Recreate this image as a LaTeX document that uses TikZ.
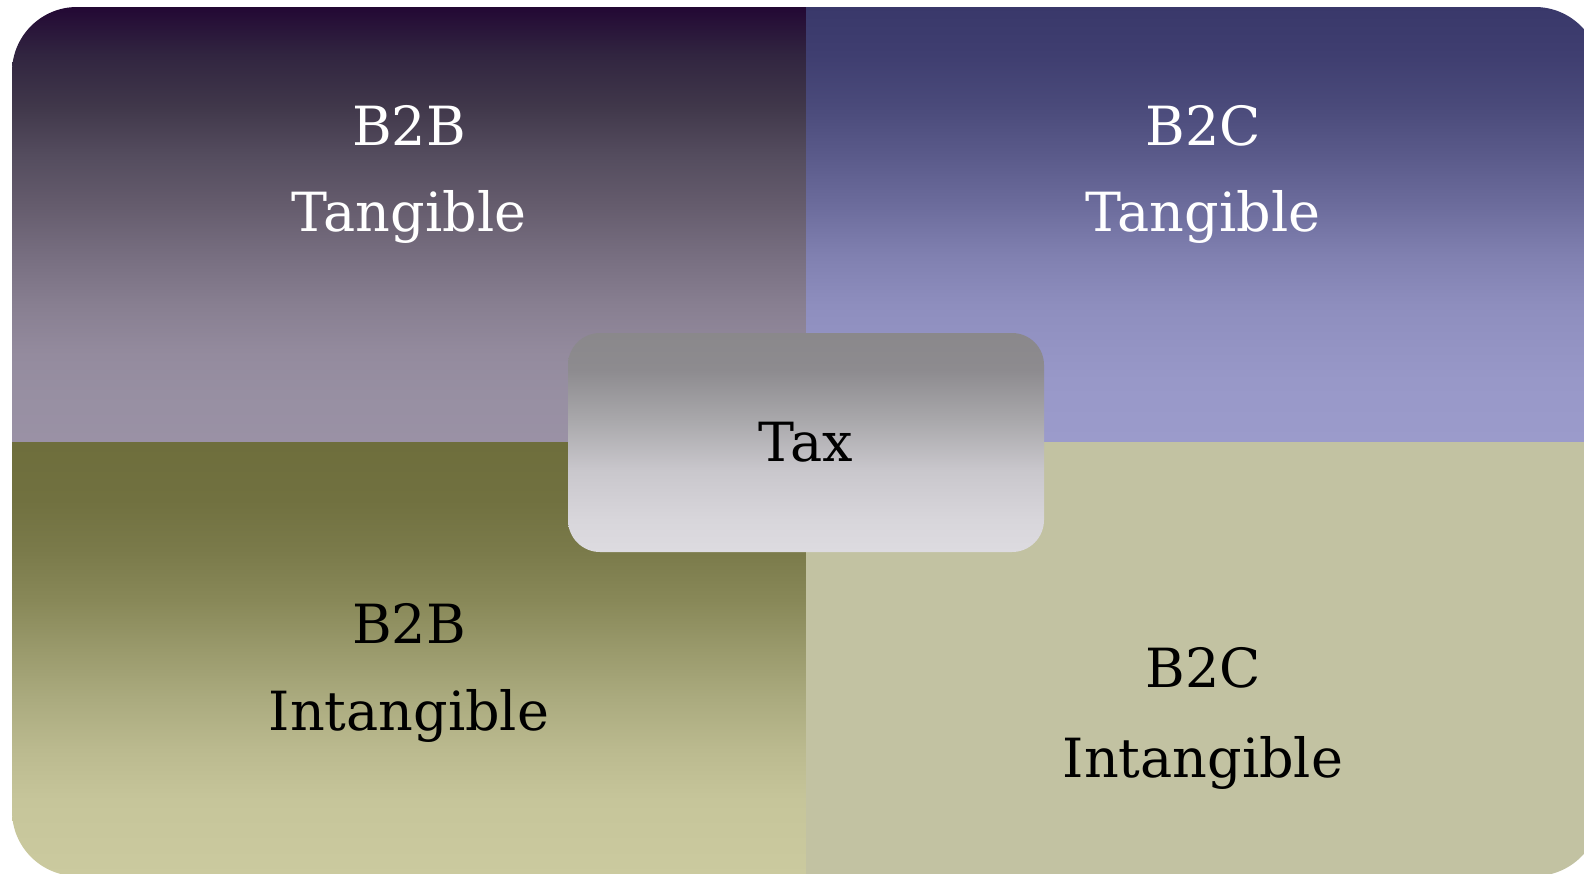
\documentclass[tikz,border=0pt]{standalone}
\usepackage{fontspec}
\setmainfont{DejaVu Serif}
\usetikzlibrary{shadings}
\definecolor{tlA}{HTML}{9A91A5}\definecolor{tlB}{HTML}{9890A3}\definecolor{tlC}{HTML}{948B9E}
\definecolor{tlD}{HTML}{887F91}\definecolor{tlE}{HTML}{776E80}\definecolor{tlF}{HTML}{655C6D}
\definecolor{tlG}{HTML}{544C5E}\definecolor{tlH}{HTML}{40374A}\definecolor{tlI}{HTML}{312540}
\definecolor{tlJ}{HTML}{230834}
\definecolor{trA}{HTML}{9B9BCB}\definecolor{trB}{HTML}{9898C8}\definecolor{trC}{HTML}{8E8EBE}
\definecolor{trD}{HTML}{8080B0}\definecolor{trE}{HTML}{6C6C9C}\definecolor{trF}{HTML}{5A5A8A}
\definecolor{trG}{HTML}{4A4A7A}\definecolor{trH}{HTML}{3F3E70}\definecolor{trI}{HTML}{39386A}
\definecolor{blA}{HTML}{CBCA9F}\definecolor{blB}{HTML}{C6C59A}\definecolor{blC}{HTML}{BBBA8F}
\definecolor{blD}{HTML}{ABAB7F}\definecolor{blE}{HTML}{9A9A6C}\definecolor{blF}{HTML}{888858}
\definecolor{blG}{HTML}{7A7A4A}\definecolor{blH}{HTML}{717140}\definecolor{blI}{HTML}{6E6E3C}
\definecolor{brfill}{HTML}{C2C2A2}
\definecolor{txA}{HTML}{DDDBE0}\definecolor{txB}{HTML}{D8D6DB}\definecolor{txC}{HTML}{C9C7CC}
\definecolor{txD}{HTML}{A9A8AB}\definecolor{txE}{HTML}{8D8B8F}\definecolor{txF}{HTML}{8A888B}
\pgfdeclareverticalshading{tlshade}{100bp}{color(0bp)=(tlA); color(25bp)=(tlA);
  color(29.3bp)=(tlB); color(35bp)=(tlC); color(40.7bp)=(tlD); color(46.5bp)=(tlE);
  color(52.2bp)=(tlF); color(58bp)=(tlG); color(63.7bp)=(tlH); color(69.5bp)=(tlI);
  color(75bp)=(tlJ); color(100bp)=(tlJ)}
\pgfdeclareverticalshading{trshade}{100bp}{color(0bp)=(trA); color(25bp)=(trA);
  color(32.1bp)=(trB); color(40.7bp)=(trC); color(46.5bp)=(trD); color(52.2bp)=(trE);
  color(58bp)=(trF); color(63.7bp)=(trG); color(69.5bp)=(trH); color(75bp)=(trI);
  color(100bp)=(trI)}
\pgfdeclareverticalshading{blshade}{100bp}{color(0bp)=(blA); color(25bp)=(blA);
  color(33.8bp)=(blB); color(39.5bp)=(blC); color(45.3bp)=(blD); color(51bp)=(blE);
  color(56.8bp)=(blF); color(62.6bp)=(blG); color(68.3bp)=(blH); color(75bp)=(blI);
  color(100bp)=(blI)}
\pgfdeclareverticalshading{taxshade}{100bp}{color(0bp)=(txA); color(25bp)=(txA);
  color(32.3bp)=(txB); color(43.7bp)=(txC); color(55.1bp)=(txD); color(66.6bp)=(txE);
  color(75bp)=(txF); color(100bp)=(txF)}
\tikzset{
  lbl/.style={anchor=base, inner sep=0pt, font=\fontsize{27pt}{32pt}\selectfont},
  lightlbl/.style={lbl, text=white},
  darklbl/.style={lbl, text=black},
  taxbox/.style={shading=taxshade, rounded corners=16pt, minimum width=238pt,
    minimum height=109.5pt, inner sep=0pt, font=\fontsize{27pt}{32pt}\selectfont, text=black}
}
\begin{document}
\begin{tikzpicture}[x=0.5pt, y=-0.5pt]
\useasboundingbox (0,0) rectangle (1584,873);
\begin{scope}
  \clip[rounded corners=32.5pt] (12,7) rectangle (1600,876);
  \shade[shading=tlshade] (12,7) rectangle (806,442);
  \shade[shading=trshade] (806,7) rectangle (1600,442);
  \shade[shading=blshade] (12,442) rectangle (806,876);
  \fill[brfill] (806,442) rectangle (1600,876);
\end{scope}
\node[lightlbl] (tla) at (409,145) {B2B};
\node[lightlbl] (tlb) at (409,231) {Tangible};
\node[lightlbl] (tra) at (1203,145) {B2C};
\node[lightlbl] (trb) at (1203,231) {Tangible};
\node[darklbl] (bla) at (409,643) {B2B};
\node[darklbl] (blb) at (409,730) {Intangible};
\node[darklbl] (bra) at (1203,687) {B2C};
\node[darklbl] (brb) at (1203,777) {Intangible};
\node[taxbox] (tax) at (806,442.5) {Tax};
\end{tikzpicture}
\end{document}
